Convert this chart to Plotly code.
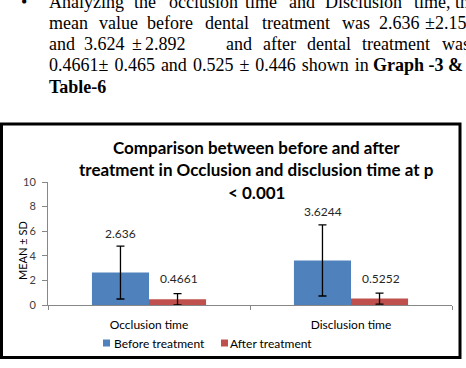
import plotly.graph_objects as go

# ---- data ----
categories = ["Occlusion time", "Disclusion time"]
before_mean = [2.636, 3.6244]
before_sd = [2.15, 2.892]
after_mean = [0.4661, 0.5252]
after_sd = [0.465, 0.446]
before_labels = ["2.636", "3.6244"]
after_labels = ["0.4661", "0.5252"]
series_names = ["Before treatment", "After treatment"]
y_ticks = [0, 2, 4, 6, 8, 10]

BLUE = "#4F81BD"
RED = "#C0504D"

W, H = 466, 368
L, R, T, B = 48, 452, 182, 305


def xp(px):
    return (px - L) / (R - L)


def yp(py):
    return (B - py) / (B - T)


fig = go.Figure()
fig.add_trace(go.Bar(x=categories, y=before_mean, name=series_names[0],
                     marker=dict(color=BLUE, line=dict(width=0)),
                     error_y=dict(type="data", array=before_sd, color="black",
                                  thickness=1.3, width=4),
                     showlegend=False))
fig.add_trace(go.Bar(x=categories, y=after_mean, name=series_names[1],
                     marker=dict(color=RED, line=dict(width=0)),
                     error_y=dict(type="data", array=after_sd, color="black",
                                  thickness=1.3, width=4),
                     showlegend=False))

ann = []
chart_font = "Lato"
# value labels above error bars
for i, c in enumerate(categories):
    ann.append(dict(x=c, y=before_mean[i] + before_sd[i], xref="x", yref="y",
                    text=before_labels[i], showarrow=False, xshift=-28.5, yshift=13,
                    yanchor="middle", font=dict(family=chart_font, size=12, color="#262626")))
    ann.append(dict(x=c, y=after_mean[i] + after_sd[i], xref="x", yref="y",
                    text=after_labels[i], showarrow=False, xshift=30, yshift=15,
                    yanchor="middle", font=dict(family=chart_font, size=12, color="#262626")))

# chart title (three lines)
title_lines = ["Comparison between before and after",
               "treatment in Occlusion and disclusion time at p",
               "< 0.001"]
for line, py in zip(title_lines, [147, 169.5, 192]):
    ann.append(dict(x=xp(256), y=yp(py), xref="paper", yref="paper", text="<b>" + line + "</b>",
                    showarrow=False, xanchor="center", yanchor="middle",
                    font=dict(family=chart_font, size=17, color="black")))

# y axis title
ann.append(dict(x=xp(22), y=yp(251), xref="paper", yref="paper", text="MEAN ± SD",
                textangle=-90, showarrow=False, xanchor="center", yanchor="middle",
                font=dict(family=chart_font, size=11, color="black")))

# legend (custom)
shapes = []
leg = [(series_names[0], BLUE, 103, 112), (series_names[1], RED, 221, 228)]
for name, col, sx, tx in leg:
    shapes.append(dict(type="rect", xref="paper", yref="paper",
                       x0=xp(sx), x1=xp(sx + 7), y0=yp(346.5), y1=yp(339.5),
                       fillcolor=col, line=dict(width=0)))
    ann.append(dict(x=xp(tx), y=yp(343), xref="paper", yref="paper", text=name,
                    showarrow=False, xanchor="left", yanchor="middle",
                    font=dict(family=chart_font, size=12, color="black")))

# outer box
shapes.append(dict(type="rect", xref="paper", yref="paper",
                   x0=xp(1.5), x1=xp(460), y0=yp(357.5), y1=yp(124),
                   line=dict(color="black", width=3), fillcolor="rgba(0,0,0,0)"))

# paragraph text above chart (justified, placed word by word)
serif = "Liberation Serif"
GAP = "\u00a0\u200a"
line4 = GAP.join(["0.4661±", "0.465", "and", "0.525", "±", "0.446", "shown", "in"])
para = [
    (1.5, [("Analyzing", 47), ("the", 132), ("occlusion", 167), ("time", 243), ("and", 287),
           ("Disclusion", 323), ("time,", 412), ("the", 453)]),
    (22.5, [("mean", 47), ("value", 97), ("before", 145), ("dental", 203), ("treatment", 260),
            ("was", 340), ("2.636", 377), ("±2.15", 423)]),
    (43.5, [("and", 47), ("3.624", 82), ("±", 130), ("2.892", 143), ("and", 224), ("after", 261),
            ("dental", 305), ("treatment", 360), ("was", 440)]),
    (64.5, [(line4, 47), ("<b>Graph -3 &amp;</b>", 371)]),
    (86.5, [("<b>Table-6</b>", 47)]),
]
for py, words in para:
    for w, px in words:
        ann.append(dict(x=xp(px), y=yp(py), xref="paper", yref="paper", text=w,
                        showarrow=False, xanchor="left", yanchor="middle",
                        font=dict(family=serif, size=18, color="black")))
ann.append(dict(x=xp(19), y=yp(1.5), xref="paper", yref="paper", text="•",
                showarrow=False, xanchor="left", yanchor="middle",
                font=dict(family=serif, size=18, color="black")))

fig.update_layout(
    width=W, height=H, autosize=False,
    margin=dict(l=L, r=W - R, t=T, b=H - B, pad=0),
    paper_bgcolor="white", plot_bgcolor="white",
    barmode="group", bargap=0.435, bargroupgap=0,
    annotations=ann, shapes=shapes, showlegend=False,
    xaxis=dict(showline=True, linecolor="#878787", linewidth=1, ticks="outside",
               tickson="boundaries", ticklen=4, tickcolor="#878787", automargin=False,
               ticklabelstandoff=9,
               tickfont=dict(family=chart_font, size=12, color="black"), showgrid=False),
    yaxis=dict(range=[0, 10], tickvals=y_ticks, showline=True, linecolor="#878787",
               linewidth=1, ticks="outside", ticklen=5, tickcolor="#878787",
               automargin=False, showgrid=False, zeroline=False, ticklabelstandoff=4,
               tickfont=dict(family=chart_font, size=11, color="#404040")),
)

fig.write_html("out.html")
